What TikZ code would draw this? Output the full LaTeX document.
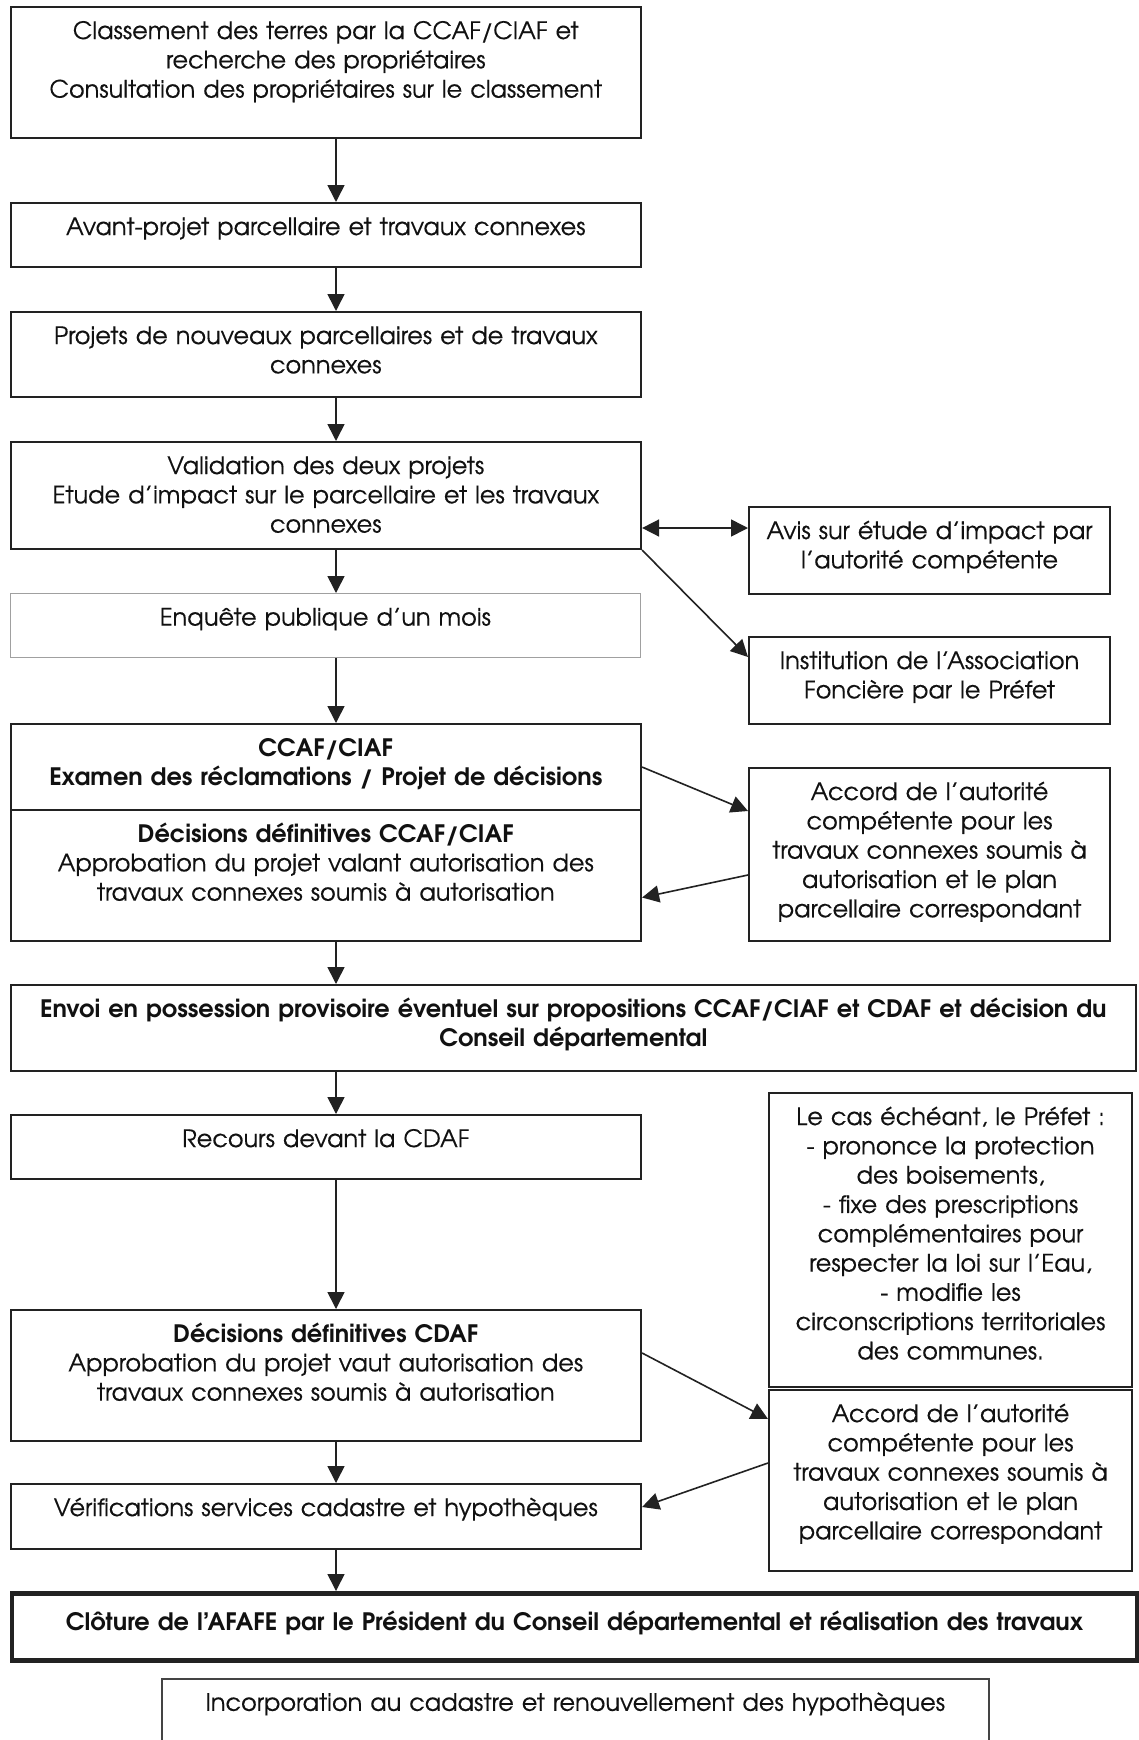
\documentclass[tikz,border=0pt]{standalone}
\usepackage{fontspec}
\setmainfont{texgyreadventor}[Extension=.otf, UprightFont=*-regular, BoldFont=*-bold, ItalicFont=*-italic, BoldItalicFont=*-bolditalic, UprightFeatures={FakeBold=0.35}]
\usetikzlibrary{arrows.meta,calc}
\definecolor{bcol}{HTML}{222222}
\definecolor{tcol}{HTML}{111111}
\definecolor{lcol}{HTML}{A0A0A0}
\definecolor{mcol}{HTML}{444444}
\newcommand\fsz{\fontsize{12pt}{14.65pt}\selectfont}
\begin{document}
\begin{tikzpicture}[x=1pt,y=1pt,
  box/.style={draw=bcol, line width=1.05pt, anchor=north west, inner xsep=2pt, inner ysep=0pt,
    align=center, text height=16pt, font=\fsz, text=tcol},
  lbox/.style={text width=311.25pt},
  rbox/.style={text width=176.5pt},
  arr/.style={-{Triangle[width=8.5pt,length=8.5pt]}, line width=0.8pt, draw=bcol},
  darr/.style={{Triangle[width=8.5pt,length=8.5pt]}-{Triangle[width=8.5pt,length=8.5pt]}, line width=0.8pt, draw=bcol}]
\useasboundingbox (0,0) rectangle (569.5,-870);
\fill[white] (0,0) rectangle (569.5,-870);
\coordinate (ax) at (168,0);

% left column
\node[box, lbox, text depth=49.5pt] (b1) at (4.75,-3)
 {Classement des terres par la CCAF/CIAF et\\recherche des propriétaires\\Consultation des propriétaires sur le classement};
\node[box, lbox, text depth=16pt] (b2) at (4.75,-101)
 {Avant-projet parcellaire et travaux connexes};
\node[box, lbox, text depth=26.5pt] (b3) at (4.75,-155.5)
 {Projets de nouveaux parcellaires et de travaux\\connexes};
\node[box, lbox, text depth=37.5pt] (b4) at (4.75,-220.5)
 {Validation des deux projets\\Etude d'impact sur le parcellaire et les travaux\\connexes};
\node[box, lbox, text depth=16pt, draw=lcol, line width=0.6pt] (b5) at (4.75,-296.5)
 {Enquête publique d'un mois};
\node[box, lbox, text depth=27pt] (b6) at (4.75,-361.5)
 {\textbf{CCAF/CIAF}\\\textbf{Examen des réclamations / Projet de décisions}};
\node[box, lbox, text depth=49.5pt] (b7) at (4.75,-404.5)
 {\textbf{Décisions définitives CCAF/CIAF}\\Approbation du projet valant autorisation des\\travaux connexes soumis à autorisation};
\node[box, text width=558.75pt, text depth=27pt] (b8) at (4.75,-492)
 {\textbf{Envoi en possession provisoire éventuel sur propositions CCAF/CIAF et CDAF et décision du}\\\textbf{Conseil départemental}};
\node[box, lbox, text depth=16pt] (b9) at (4.75,-557)
 {Recours devant la CDAF};
\node[box, lbox, text depth=49.5pt] (b10) at (4.75,-654.5)
 {\textbf{Décisions définitives CDAF}\\Approbation du projet vaut autorisation des\\travaux connexes soumis à autorisation};
\node[box, lbox, text depth=16.5pt] (b11) at (4.75,-741.5)
 {Vérifications services cadastre et hypothèques};
\node[box, text width=558.75pt, text height=18.5pt, text depth=15pt, line width=2.3pt] (b12) at (4.75,-795.5)
 {\textbf{Clôture de l'AFAFE par le Président du Conseil départemental et réalisation des travaux}};
\node[box, text width=409.5pt, text depth=24pt, draw=mcol, line width=0.8pt] (b13) at (80.5,-839)
 {Incorporation au cadastre et renouvellement des hypothèques};

% right column
\node[box, rbox, text depth=27.5pt] (avis) at (374,-253)
 {Avis sur étude d'impact par\\l'autorité compétente};
\node[box, rbox, text depth=27.5pt] (inst) at (374,-318)
 {Institution de l'Association\\Foncière par le Préfet};
\node[box, rbox, text depth=70.5pt] (acc1) at (374,-383.5)
 {Accord de l'autorité\\compétente pour les\\travaux connexes soumis à\\autorisation et le plan\\parcellaire correspondant};
\node[box, text width=177.5pt, text depth=131pt, text height=16pt] (pref) at (384,-546)
 {Le cas échéant, le Préfet :\\- prononce la protection\\des boisements,\\- fixe des prescriptions\\complémentaires pour\\respecter la loi sur l'Eau,\\- modifie les\\circonscriptions territoriales\\des communes.};
\node[box, text width=177.5pt, text depth=74.5pt] (acc2) at (384,-694.5)
 {Accord de l'autorité\\compétente pour les\\travaux connexes soumis à\\autorisation et le plan\\parcellaire correspondant};

% vertical flow
\draw[arr] (b1.south -| ax) -- (b2.north -| ax);
\draw[arr] (b2.south -| ax) -- (b3.north -| ax);
\draw[arr] (b3.south -| ax) -- (b4.north -| ax);
\draw[arr] (b4.south -| ax) -- (b5.north -| ax);
\draw[arr] (b5.south -| ax) -- (b6.north -| ax);
\draw[arr] (b7.south -| ax) -- (b8.north -| ax);
\draw[arr] (b8.south -| ax) -- (b9.north -| ax);
\draw[arr] (b9.south -| ax) -- (b10.north -| ax);
\draw[arr] (b10.south -| ax) -- (b11.north -| ax);
\draw[arr] (b11.south -| ax) -- (b12.north -| ax);

% side connectors
\draw[darr] ($(b4.north east)+(0,-43.5)$) -- ($(avis.north west)+(0,-11)$);
\draw[arr] (b4.south east) -- ($(inst.north west)+(0,-10.5)$);
\draw[arr] (b6.east) -- ($(acc1.north west)+(0,-22)$);
\draw[arr] ($(acc1.north west)+(0,-54)$) -- ($(b7.east)+(0,-11)$);
\draw[arr] ($(b10.north east)+(0,-22)$) -- ($(acc2.north west)+(0,-15)$);
\draw[arr] ($(acc2.north west)+(0,-37)$) -- ($(b11.north east)+(0,-12)$);
\end{tikzpicture}
\end{document}
